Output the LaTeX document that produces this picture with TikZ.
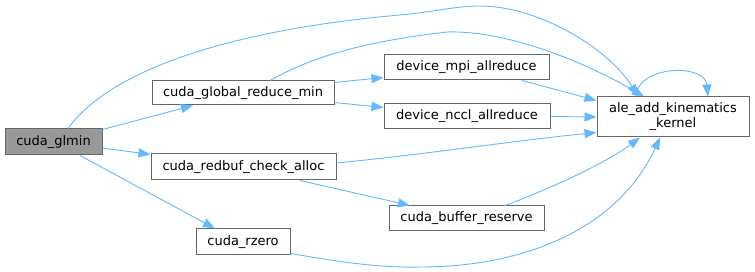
\documentclass[tikz,border=0pt]{standalone}
\usepackage{fontspec}
\setmainfont{DejaVu Sans}
\usetikzlibrary{arrows.meta}
\definecolor{edgeblue}{HTML}{63B8FF}
\definecolor{boxgray}{HTML}{666666}
\definecolor{curfill}{HTML}{999999}
\tikzset{
  fn/.style={draw=boxgray, line width=1pt, fill=white, inner sep=0pt, minimum height=25pt,
    font=\fontsize{13}{15}\selectfont, text=black, align=center},
  edge/.style={draw=edgeblue, line width=0.9pt, -{Triangle[length=12pt,width=9pt]}, fill=none},
}
\begin{document}
\begin{tikzpicture}[x=1pt,y=-1pt]
\useasboundingbox (0,0) rectangle (755,272);
\node[fn, fill=curfill, minimum width=97pt, minimum height=26pt] (glmin) at (53.5,142) {cuda\_glmin};
\node[fn, minimum width=182pt, minimum height=24pt] (cgrm) at (243,93) {cuda\_global\_reduce\_min};
\node[fn, minimum width=165pt] (mpi) at (466.5,67.5) {device\_mpi\_allreduce};
\node[fn, minimum width=166pt] (nccl) at (467,116.5) {device\_nccl\_allreduce};
\node[fn, minimum width=152pt, minimum height=40pt] (ale) at (673,117) {ale\_add\_kinematics\\\_kernel};
\node[fn, minimum width=185pt, minimum height=26pt] (redbuf) at (243.5,167) {cuda\_redbuf\_check\_alloc};
\node[fn, minimum width=94pt, minimum height=26pt] (rzero) at (243,242) {cuda\_rzero};
\node[fn, minimum width=155pt] (bufres) at (466.5,218.5) {cuda\_buffer\_reserve};

% cuda_glmin edges
\draw[edge] ([xshift=14.5pt]glmin.north) .. controls (110,70) and (230,30) .. (400,15)
  .. controls (434,12) and (455,6) .. (480,6)
  .. controls (540,6) and (610,50) .. ([xshift=-35pt]ale.north);
\draw[edge] ([yshift=-1pt]glmin.north east) -- ([xshift=-50pt]cgrm.south);
\draw[edge] ([yshift=-6pt]glmin.east) -- ([yshift=-1pt]redbuf.north west);
\draw[edge] ([xshift=26.5pt]glmin.south) -- ([xshift=-28pt]rzero.north);

% cuda_global_reduce_min edges
\draw[edge] ([xshift=27pt]cgrm.north) .. controls (310,58) and (360,42) .. (447,32)
  .. controls (510,30) and (590,65) .. ([xshift=-29pt]ale.north);
\draw[edge] ([yshift=-2pt]cgrm.north east) -- ([yshift=3pt]mpi.south west);
\draw[edge] ([yshift=3pt]cgrm.south east) -- ([yshift=-4pt]nccl.north west);

% device edges
\draw[edge] ([xshift=55.5pt]mpi.south) -- ([yshift=-4pt]ale.north west);
\draw[edge] (nccl.east) -- (ale.west);

% redbuf edges
\draw[edge] ([yshift=4pt]redbuf.east) .. controls (420,155) and (520,140) .. ([yshift=5pt]ale.south west);
\draw[edge] ([xshift=56.5pt]redbuf.south) -- ([xshift=-56.5pt]bufres.north);

% buffer_reserve edge
\draw[edge] ([xshift=38.5pt]bufres.north) .. controls (560,185) and (610,160) .. ([xshift=-33pt]ale.south);

% rzero edge
\draw[edge] ([yshift=2pt]rzero.south east) .. controls (340,262) and (380,268) .. (420,267)
  .. controls (530,267) and (620,225) .. ([xshift=-13pt]ale.south);

% self loop
\draw[edge] ([xshift=-38pt]ale.north) .. controls (640,64) and (705,64) .. ([xshift=35pt]ale.north);
\end{tikzpicture}
\end{document}
